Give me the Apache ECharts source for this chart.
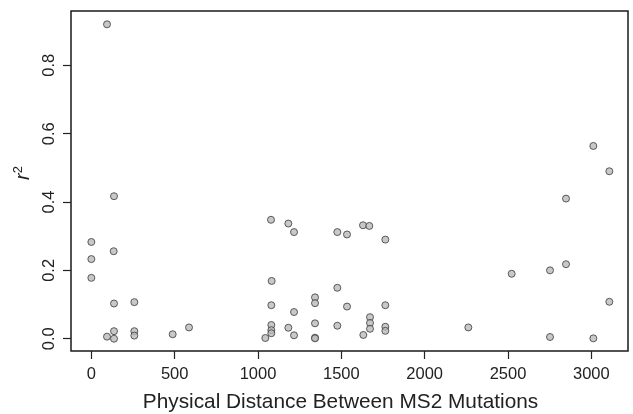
<!DOCTYPE html>
<html><head><meta charset="utf-8">
<script src="https://cdn.jsdelivr.net/npm/echarts@6/dist/echarts.min.js"></script>
<style>html,body{margin:0;padding:0;background:#fff}#c{width:633px;height:414px}</style>
</head><body><div id="c"></div>
<script>
const distances = [94,136,0,134,0,0,136,258,136,94,136,258,258,488,586,
  1078,1182,1216,1476,1534,1630,1668,1082,1476,1342,1342,1080,1216,1534,1672,1672,1672,1632,1080,1080,1080,1044,1182,1216,1342,1342,1342,1476,
  1764,1764,1764,1764,2262,
  2848,3012,3108,2522,2752,2848,3108,2752,3012];
const r2 = [0.92,0.417,0.283,0.256,0.233,0.178,0.103,0.107,0.022,0.006,0.0,0.022,0.009,0.013,0.033,
  0.348,0.337,0.312,0.312,0.305,0.332,0.330,0.169,0.149,0.121,0.104,0.098,0.078,0.094,0.063,0.046,0.029,0.011,0.040,0.025,0.016,0.002,0.032,0.010,0.045,0.003,0.001,0.038,
  0.290,0.098,0.035,0.023,0.033,
  0.410,0.564,0.490,0.190,0.200,0.218,0.108,0.005,0.001];
const xTicks = [0,500,1000,1500,2000,2500,3000];
const yTicks = [0,0.2,0.4,0.6,0.8];
const xTitle = 'Physical Distance Between MS2 Mutations';

const points = distances.map((d,i)=>[d, r2[i]]);
const font = 'Liberation Sans, Arial, Helvetica, sans-serif';
const chart = echarts.init(document.getElementById('c'));
chart.setOption({
  animation:false,
  grid:{left:71, top:11, right:5, bottom:63, outerBoundsMode:'none', containLabel:false,
    show:true, borderColor:'#1a1a1a', borderWidth:1.5, backgroundColor:'#fff'},
  xAxis:{type:'value', min:-122, max:3220,
    axisLine:{show:false, onZero:false}, splitLine:{show:false},
    axisTick:{show:true, inside:false, length:8, customValues:xTicks, lineStyle:{color:'#222', width:1.2}},
    axisLabel:{customValues:xTicks, margin:15, fontFamily:font, fontSize:16.5, color:'#222',
      formatter:v=>String(v), showMinLabel:true, showMaxLabel:true},
    name:xTitle, nameLocation:'middle', nameGap:41,
    nameTextStyle:{fontFamily:font, fontSize:20.8, color:'#222', padding:[0,18,0,0]}},
  yAxis:{type:'value', min:-0.036, max:0.959,
    axisLine:{show:false, onZero:false}, splitLine:{show:false},
    axisTick:{show:true, inside:false, length:8, customValues:yTicks, lineStyle:{color:'#222', width:1.2}},
    axisLabel:{customValues:yTicks, rotate:90, margin:13, fontFamily:font, fontSize:16.5, color:'#222',
      formatter:v=>v.toFixed(1)}},
  graphic:[{type:'text', x:23, y:173, rotation:Math.PI/2,
    style:{text:'{i|r}{s|2}', align:'center', verticalAlign:'middle',
      rich:{i:{fontFamily:font, fontStyle:'italic', fontSize:20, fill:'#222'},
        s:{fontFamily:font, fontSize:13, fill:'#222', verticalAlign:'top', padding:[0,0,9,0]}}}}],
  series:[{type:'scatter', data:points, symbol:'circle', symbolSize:7,
    itemStyle:{color:'#bababa', borderColor:'#3a3a3a', borderWidth:1}}]
});
</script></body></html>
